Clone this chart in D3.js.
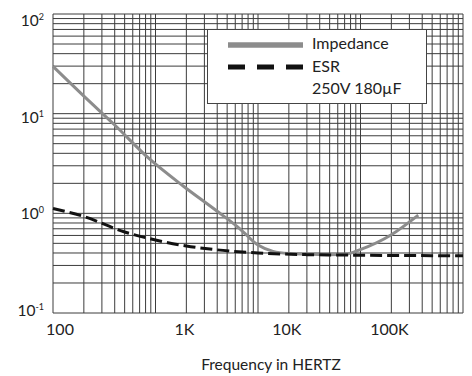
<!DOCTYPE html>
<html>
<head>
<meta charset="utf-8">
<script src="https://cdn.jsdelivr.net/npm/d3@7"></script>
<style>
  body { margin: 0; background: #fff; }
  text { font-family: Lato, "Open Sans", sans-serif; fill: #222; }
</style>
</head>
<body>
<svg width="472" height="376"></svg>
<script>
// impedance curve (Hz, ohms)
const impFreq = [100, 200, 400, 880, 1860, 3940, 6660, 10000, 14000, 20000, 30000, 50000, 73000, 98000, 200000, 366000];
const impVal  = [29.8, 15, 7.7, 3.49, 1.88, 1.06, 0.70, 0.48, 0.415, 0.395, 0.39, 0.385, 0.39, 0.43, 0.61, 0.96];

// ESR curve
const esrFreq = [100, 200, 500, 1000, 2000, 4000, 10000, 30000, 100000, 1000000];
const esrVal  = [1.12, 0.93, 0.65, 0.54, 0.47, 0.43, 0.40, 0.385, 0.38, 0.375];

// tick labels
const xTicks = [100, 1000, 10000, 100000];
const xTickLabels = ["100", "1K", "10K", "100K"];
const yTicks = [100, 10, 1, 0.1];
const yTickExp = ["2", "1", "0", "-1"];

const legendLabels = ["Impedance", "ESR", "250V 180µF"];

const svg = d3.select("svg");
const margin = {top: 14, right: 9, bottom: 63, left: 53};
const width = 472 - margin.left - margin.right,
      height = 376 - margin.top - margin.bottom;

const x = d3.scaleLog().domain([100, 1e6]).range([0, width]);
const y = d3.scaleLog().domain([0.1, 100]).range([height, 0]);
// the y labels sit a little off their grid lines in the original
const yLab = d3.scaleLog().domain([0.1, 100]).range([height - 2, 7]);

const g = svg.append("g")
  .attr("transform", "translate(" + margin.left + "," + margin.top + ")");

// grid: every 1..9 x decade
const xGrid = [], yGrid = [];
for (let e = 2; e < 6; e++) for (let m = 1; m < 10; m++) xGrid.push(m * Math.pow(10, e));
xGrid.push(1e6);
for (let e = -1; e < 2; e++) for (let m = 1; m < 10; m++) yGrid.push(m * Math.pow(10, e));
yGrid.push(100);

g.append("g").selectAll("line").data(xGrid).enter().append("line")
  .attr("x1", d => x(d)).attr("x2", d => x(d))
  .attr("y1", 0).attr("y2", height)
  .attr("stroke", "#3c3c3c").attr("stroke-width", 1);

g.append("g").selectAll("line").data(yGrid).enter().append("line")
  .attr("y1", d => y(d)).attr("y2", d => y(d))
  .attr("x1", 0).attr("x2", width)
  .attr("stroke", "#3c3c3c").attr("stroke-width", 1);

// curves
const line = d3.line()
  .x(d => x(d[0]))
  .y(d => y(d[1]))
  .curve(d3.curveMonotoneX);

g.append("path")
  .datum(impFreq.map((f, i) => [f, impVal[i]]))
  .attr("fill", "none")
  .attr("stroke", "#8c8c8c")
  .attr("stroke-width", 3)
  .attr("d", line);

g.append("path")
  .datum(esrFreq.map((f, i) => [f, esrVal[i]]))
  .attr("fill", "none")
  .attr("stroke", "#111")
  .attr("stroke-width", 3)
  .attr("stroke-dasharray", "12,5")
  .attr("d", line);

// legend box
const lg = svg.append("g");
lg.append("rect")
  .attr("x", 207.5).attr("y", 29.5)
  .attr("width", 219).attr("height", 74)
  .attr("fill", "#fff").attr("stroke", "#444");
lg.append("line")
  .attr("x1", 228).attr("x2", 303).attr("y1", 45).attr("y2", 45)
  .attr("stroke", "#8c8c8c").attr("stroke-width", 5.5);
lg.append("line")
  .attr("x1", 228).attr("x2", 303).attr("y1", 67).attr("y2", 67)
  .attr("stroke", "#111").attr("stroke-width", 5)
  .attr("stroke-dasharray", "17,12");
lg.selectAll("text.leg").data(legendLabels).enter().append("text")
  .attr("class", "leg")
  .attr("x", 312)
  .attr("y", (d, i) => 49 + i * 22.5)
  .attr("font-size", 16)
  .text(d => d);

// y tick labels: 10 with superscript exponent
const yl = g.append("g");
yTicks.forEach((v, i) => {
  const t = yl.append("text")
    .attr("x", -9)
    .attr("y", yLab(v) + 5)
    .attr("text-anchor", "end")
    .attr("font-size", 15.5);
  t.append("tspan").text("10");
  t.append("tspan").attr("dy", -6).attr("font-size", 9).text(yTickExp[i]);
});

// x tick labels, these sit under the 2x lines in the original
g.append("g").selectAll("text").data(xTicks).enter().append("text")
  .attr("x", (d, i) => i === 0 ? x(d) + 7 : x(d * 2) - 2)
  .attr("y", height + 22)
  .attr("text-anchor", "middle")
  .attr("font-size", 16)
  .text((d, i) => xTickLabels[i]);

svg.append("text")
  .attr("x", 271)
  .attr("y", 370)
  .attr("text-anchor", "middle")
  .attr("font-size", 15.5)
  .text("Frequency in HERTZ");
</script>
</body>
</html>
